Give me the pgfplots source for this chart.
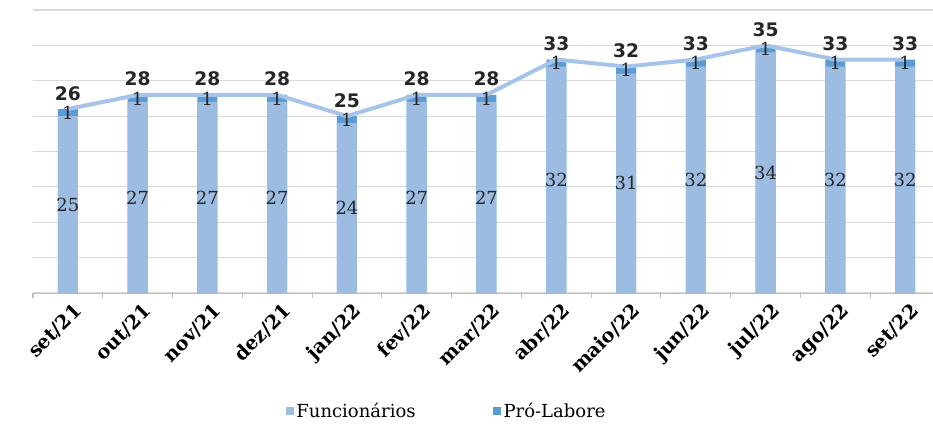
\documentclass[border=0pt]{standalone}
\usepackage{fontspec}
\setmainfont{DejaVu Serif}
\newfontfamily\labsans{DejaVu Sans}
\usepackage{pgfplots}
\pgfplotsset{compat=1.18}
\usepackage{pgfplotstable}
\definecolor{funcc}{HTML}{9CBCE2}
\definecolor{proc}{HTML}{5B9BD5}
\definecolor{linec}{HTML}{A6C4EA}
\definecolor{gridc}{HTML}{D9D9D9}
\definecolor{axc}{HTML}{BFBFBF}

\pgfplotstableread{
x F P T
0 25 1 26
1 27 1 28
2 27 1 28
3 27 1 28
4 24 1 25
5 27 1 28
6 27 1 28
7 32 1 33
8 31 1 32
9 32 1 33
10 34 1 35
11 32 1 33
12 32 1 33
}\data

\begin{document}
\begin{tikzpicture}
\begin{axis}[
  at={(0,0)}, anchor=south west,
  scale only axis, width=675pt, height=212.25pt,
  xmin=-0.5, xmax=12.4, ymin=0, ymax=40,
  /pgf/number format/assume math mode=true,
  axis x line*=bottom, axis y line*=left,
  x axis line style={-, draw=axc},
  y axis line style={draw=none},
  ytick={0,5,...,40}, yticklabels={}, ytick style={draw=none},
  ymajorgrids, grid style={gridc, line width=0.8pt},
  xtick={0,...,12},
  xticklabels={set/21,out/21,nov/21,dez/21,jan/22,fev/22,mar/22,abr/22,maio/22,jun/22,jul/22,ago/22,set/22},
  major x tick style={draw=none}, major tick length=0pt,
  minor xtick={-0.5,0.5,...,11.5},
  minor x tick style={draw=axc, line width=0.8pt},
  minor tick length=4pt, tick align=outside,
  xticklabel style={rotate=45, anchor=north east, font=\bfseries\fontsize{14.5}{14.5}\selectfont, inner sep=1pt, yshift=-6pt, xshift=-1pt},
  clip=false,
  legend style={at={(0.46,-0.417)}, anchor=center, draw=none, fill=none,
    legend columns=2, font=\fontsize{13.5}{13.5}\selectfont,
    /tikz/every even column/.append style={column sep=56pt}},
  legend image code/.code={\path[#1] (0pt,-3pt) rectangle (6pt,3pt);},
]
\addplot[ybar, bar width=15pt, bar shift=0pt, fill=proc, draw=none, forget plot] table[x=x,y=T]{\data};
\addplot[ybar, bar width=15pt, bar shift=0pt, fill=funcc, draw=none, forget plot] table[x=x,y=F]{\data};
\addplot[linec, line width=3pt, mark=none, forget plot] table[x=x,y=T]{\data};
\addplot[draw=none, mark=none, forget plot, nodes near coords, point meta=explicit,
  nodes near coords style={anchor=center, font=\fontsize{13.5}{13.5}\selectfont, text=black!85}]
  table[x=x, y expr=\thisrow{F}/2, meta=F]{\data};
\addplot[draw=none, mark=none, forget plot, nodes near coords, point meta=explicit,
  nodes near coords style={anchor=center, font=\fontsize{13.5}{13.5}\selectfont, text=black!85}]
  table[x=x, y expr=\thisrow{T}-0.5, meta=P]{\data};
\addplot[draw=none, mark=none, forget plot, nodes near coords, point meta=explicit,
  nodes near coords style={anchor=south, yshift=3pt, font=\labsans\bfseries\fontsize{14}{14}\selectfont, text=black!85}]
  table[x=x, y=T, meta=T]{\data};
\addlegendimage{fill=funcc, draw=none}
\addlegendentry{Funcionários}
\addlegendimage{fill=proc, draw=none}
\addlegendentry{Pró-Labore}
\end{axis}
\pgfresetboundingbox
\path (-24.75pt,-102.75pt) rectangle (675pt,219.75pt);
\end{tikzpicture}
\end{document}
